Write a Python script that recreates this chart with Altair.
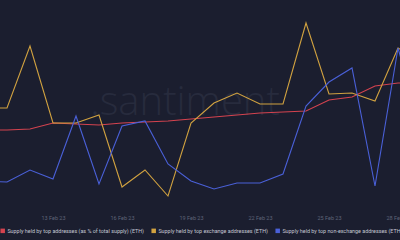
import altair as alt
import pandas as pd

dates = ["2023-02-10", "2023-02-11", "2023-02-12", "2023-02-13", "2023-02-14",
         "2023-02-15", "2023-02-16", "2023-02-17", "2023-02-18", "2023-02-19",
         "2023-02-20", "2023-02-21", "2023-02-22", "2023-02-23", "2023-02-24",
         "2023-02-25", "2023-02-26", "2023-02-27", "2023-02-28", "2023-03-01"]

# relative levels (no y axis shown in the reference)
top_pct = [70, 70, 71, 77, 76, 75, 77, 78, 79, 81,
           83, 85, 87, 88, 89, 100, 103, 114, 117, 117]
top_exchange = [92, 92, 154, 77, 77, 85, 13, 30, 4, 77,
                97, 107, 96, 96, 177, 106, 107, 99, 152, 140]
top_nonexchange = [19, 18, 30, 21, 84, 16, 74, 79, 36, 19,
                   11, 17, 17, 26, 94, 118, 132, 14, 152, 70]

names = ["Supply held by top addresses (as % of total supply) (ETH)",
         "Supply held by top exchange addresses (ETH)",
         "Supply held by top non-exchange addresses (ETH)"]
colors = ["#d4434f", "#d1a240", "#4a60d8"]

rows = []
for name, vals in zip(names, [top_pct, top_exchange, top_nonexchange]):
    for d, v in zip(dates, vals):
        rows.append({"date": d, "value": v, "series": name})
df = pd.DataFrame(rows)

x_dom = [alt.DateTime(year=2023, month=2, date=10, hours=16, minutes=42, utc=True),
         alt.DateTime(year=2023, month=2, date=28, hours=2, minutes=5, utc=True)]
tick_vals = [alt.DateTime(year=2023, month=2, date=d, utc=True) for d in [13, 16, 19, 22, 25, 28]]

watermark = alt.Chart(pd.DataFrame({"t": [".santiment"]})).mark_text(
    fontSize=40, font="Open Sans", fontWeight=300, color="#272b3d",
    align="center", baseline="alphabetic"
).encode(text="t:N", x=alt.value(185), y=alt.value(115))

lines = alt.Chart(df).mark_line(strokeWidth=1.1, clip=True).encode(
    x=alt.X("date:T", scale=alt.Scale(type="utc", domain=x_dom),
            axis=alt.Axis(values=tick_vals, format="%d %b %y", title=None,
                          domain=False, ticks=False, grid=False,
                          labelColor="#5f6478", labelFontSize=5.5,
                          labelPadding=15, labelFont="Roboto")),
    y=alt.Y("value:Q", scale=alt.Scale(domain=[0, 200]), axis=None),
    color=alt.Color("series:N", sort=names,
                    scale=alt.Scale(domain=names, range=colors),
                    legend=alt.Legend(title=None, orient="none", direction="horizontal",
                                      legendX=0, legendY=228, symbolType="square",
                                      symbolSize=4, symbolStrokeWidth=2.5,
                                      labelFontSize=5.4, labelFont="Roboto",
                                      labelColor="#c3c6d2", labelLimit=400,
                                      columnPadding=3, labelOffset=2, padding=0)),
)

chart = alt.layer(watermark, lines).properties(
    width=400, height=200, background="#1b1e2f",
    padding={"left": 0, "top": 0, "right": 0, "bottom": 40},
    autosize=alt.AutoSizeParams(type="none")
).configure_view(stroke=None)

chart.save("out.html", embed_options={"renderer": "svg", "actions": False})
